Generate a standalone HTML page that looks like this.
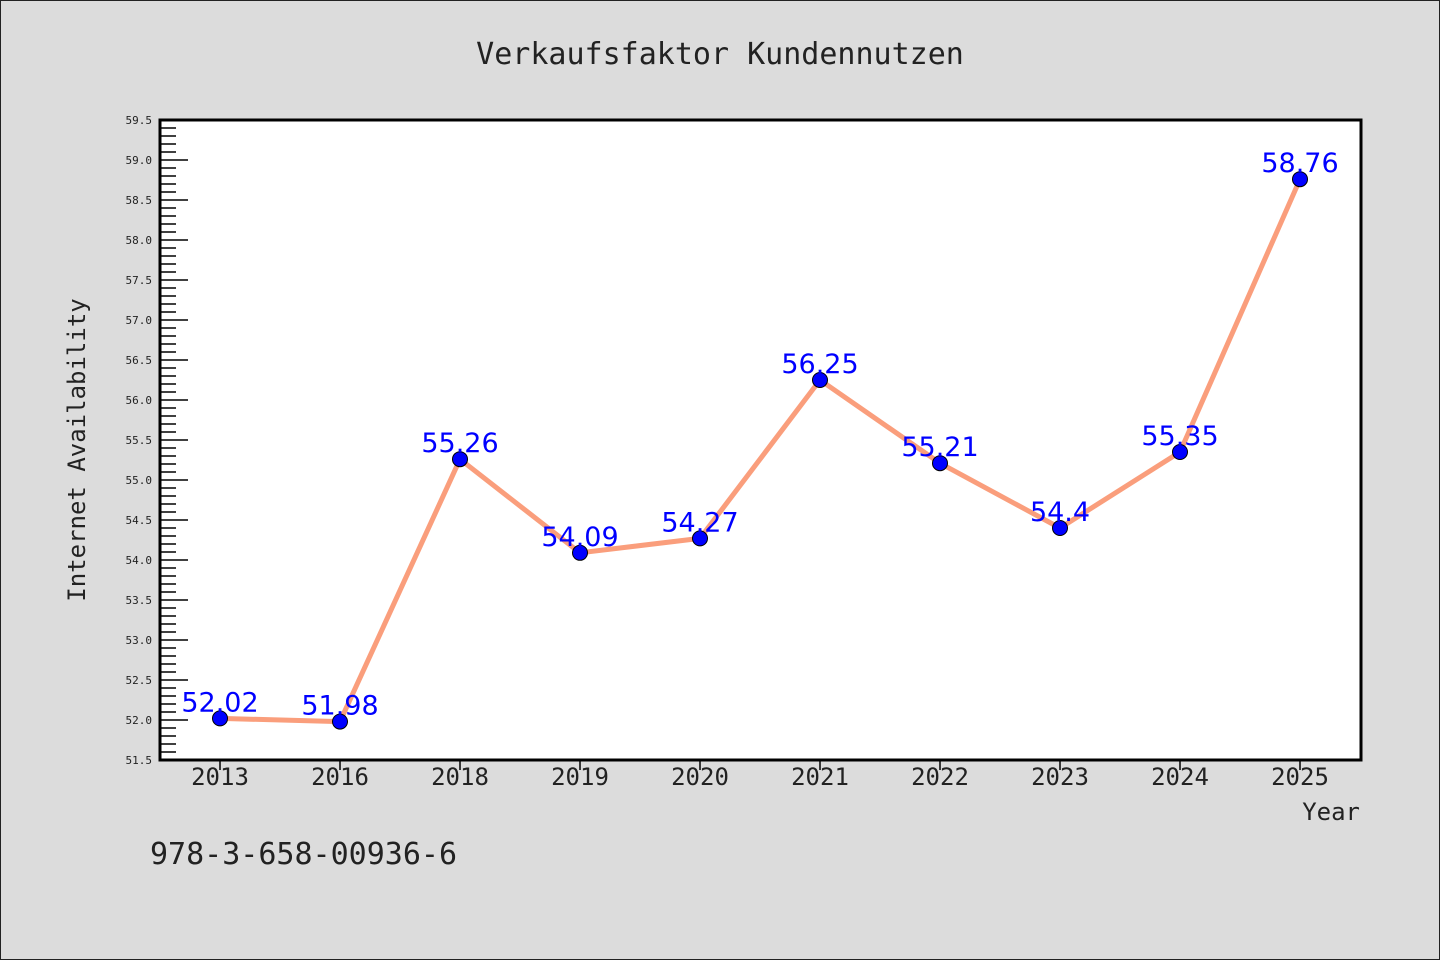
<!DOCTYPE html>
<html><head><meta charset="utf-8"><style>
html,body{margin:0;padding:0;background:#dcdcdc;}
svg{display:block;font-family:"DejaVu Sans Mono","Liberation Mono",monospace;}
</style></head><body>
<svg width="1440" height="960" viewBox="0 0 1440 960">
<rect x="0.5" y="0.5" width="1439" height="959" fill="#dcdcdc" stroke="#222"/>
<text x="720" y="64" text-anchor="middle" font-size="30" fill="#222">Verkaufsfaktor Kundennutzen</text>
<rect x="160" y="120" width="1201" height="640" fill="#fff" stroke="#000" stroke-width="3"/>
<g id="yaxis"></g>
<g id="xaxis"></g>
<g id="series"></g>
<text transform="translate(85,450) rotate(-90)" text-anchor="middle" font-size="24" fill="#222">Internet Availability</text>
<text x="1360" y="820" text-anchor="end" font-size="24" fill="#222">Year</text>
<text x="150" y="864" font-size="30" fill="#222">978-3-658-00936-6</text>
</svg>
<script>
const categories = ["2013","2016","2018","2019","2020","2021","2022","2023","2024","2025"];
const values = [52.02,51.98,55.26,54.09,54.27,56.25,55.21,54.4,55.35,58.76];
const labels = ["52.02","51.98","55.26","54.09","54.27","56.25","55.21","54.4","55.35","58.76"];
const yTicks = ["51.5","52.0","52.5","53.0","53.5","54.0","54.5","55.0","55.5","56.0","56.5","57.0","57.5","58.0","58.5","59.0","59.5"];
{
const NS="http://www.w3.org/2000/svg";
const yMin=51.5,yMax=59.5,plotTop=120,plotBot=760,plotLeft=160;
const y=v=>plotBot-(v-yMin)/(yMax-yMin)*(plotBot-plotTop);
const x=i=>220+i*120;
function mk(tag,attrs,parent,text){const e=document.createElementNS(NS,tag);for(const k in attrs)e.setAttribute(k,attrs[k]);if(text!==undefined)e.textContent=text;parent.appendChild(e);return e;}
const ya=document.getElementById('yaxis');
for(let k=0;k<=80;k++){const v=yMin+k*0.1;const major=k%5===0;
 const t=mk('line',{x1:plotLeft,x2:plotLeft+(major?28:16),y1:y(v),y2:y(v),stroke:'#000','stroke-width':1.5},ya);
 
 }
yTicks.forEach(s=>{const t=mk('text',{x:152,y:y(parseFloat(s))+4,'text-anchor':'end','font-size':11,fill:'#222'},ya,s);
 
 });
const xa=document.getElementById('xaxis');
categories.forEach((c,i)=>{const l=mk('line',{x1:x(i),x2:x(i),y1:plotBot,y2:plotBot+10,stroke:'#000','stroke-width':1.5},xa);
 
 
 const t=mk('text',{x:x(i),y:plotBot+25,'text-anchor':'middle','font-size':24,fill:'#222'},xa,c);
 
 });
const g=document.getElementById('series');
const pl=mk('polyline',{points:values.map((v,i)=>x(i)+','+y(v)).join(' '),fill:'none',stroke:'#fa9e7c','stroke-width':5,'stroke-linejoin':'round'},g);


values.forEach((v,i)=>{const c=mk('circle',{cx:x(i),cy:y(v),r:7.5,fill:'#0000ff',stroke:'#000','stroke-width':1},g);
 
 
 const t=mk('text',{x:x(i),y:y(v)-7,'text-anchor':'middle','font-size':27,fill:'#0000ff','font-family':'"DejaVu Sans","Liberation Sans",sans-serif'},g,labels[i]);
 
 });
}
</script>
</body></html>
